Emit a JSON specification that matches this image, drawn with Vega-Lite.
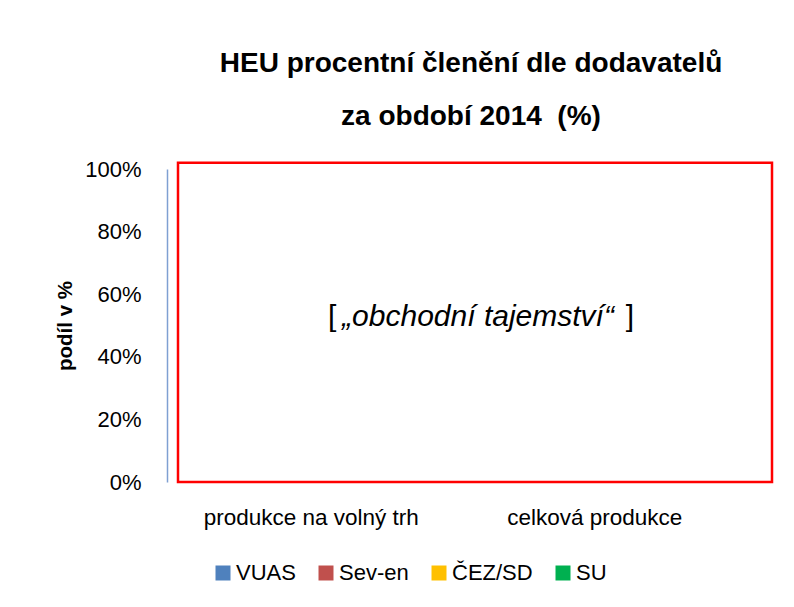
{
  "$schema": "https://vega.github.io/schema/vega-lite/v6.json",
  "width": 594,
  "height": 313,
  "autosize": {"type": "none"},
  "padding": {"left": 178, "top": 169, "right": 22, "bottom": 125},
  "background": "white",
  "config": {"font": "Liberation Sans", "view": {"stroke": null}},
  "title": {
    "text": ["HEU procentní členění dle dodavatelů", "za období 2014\u00a0 (%)"],
    "fontSize": 28,
    "fontWeight": "bold",
    "lineHeight": 53,
    "color": "black",
    "anchor": "middle",
    "frame": "group",
    "baseline": "alphabetic",
    "offset": 5,
    "dx": -4
  },
  "datasets": {
    "podily": [
      {"kategorie": "produkce na volný trh", "dodavatel": "VUAS", "podil": null},
      {"kategorie": "produkce na volný trh", "dodavatel": "Sev-en", "podil": null},
      {"kategorie": "produkce na volný trh", "dodavatel": "ČEZ/SD", "podil": null},
      {"kategorie": "produkce na volný trh", "dodavatel": "SU", "podil": null},
      {"kategorie": "celková produkce", "dodavatel": "VUAS", "podil": null},
      {"kategorie": "celková produkce", "dodavatel": "Sev-en", "podil": null},
      {"kategorie": "celková produkce", "dodavatel": "ČEZ/SD", "podil": null},
      {"kategorie": "celková produkce", "dodavatel": "SU", "podil": null}
    ],
    "poznamka": [
      {"text": "„obchodní tajemství“"}
    ]
  },
  "layer": [
    {
      "data": {"name": "podily"},
      "mark": {"type": "bar"},
      "encoding": {
        "x": {
          "field": "kategorie",
          "type": "nominal",
          "sort": ["produkce na volný trh", "celková produkce"],
          "scale": {"domain": ["produkce na volný trh", "celková produkce"], "paddingInner": 0, "paddingOuter": 0.0476},
          "axis": {
            "title": null,
            "labelAngle": 0,
            "labelFontSize": 22.5,
            "labelColor": "black",
            "labelLimit": 400,
            "domain": false,
            "ticks": false,
            "labelPadding": 24,
            "labelOffset": -22
          }
        },
        "y": {
          "field": "podil",
          "type": "quantitative",
          "scale": {"domain": [0, 1], "nice": false},
          "axis": {
            "title": "podíl v %",
            "format": ".0%",
            "values": [0, 0.2, 0.4, 0.6, 0.8, 1],
            "grid": false,
            "ticks": false,
            "tickSize": 0,
            "labelPadding": 26,
            "offset": 11,
            "domainColor": "#7FA0D2",
            "domainWidth": 1.5,
            "labelFontSize": 22,
            "labelColor": "black",
            "titleFontSize": 20.5,
            "titleFontWeight": "bold",
            "titleColor": "black",
            "titlePadding": 9
          }
        },
        "color": {
          "field": "dodavatel",
          "type": "nominal",
          "scale": {
            "domain": ["VUAS", "Sev-en", "ČEZ/SD", "SU"],
            "range": ["#4F81BD", "#C0504D", "#FFC000", "#00B050"]
          },
          "legend": {
            "orient": "none",
            "legendX": 34,
            "legendY": 393,
            "direction": "horizontal",
            "title": null,
            "symbolType": "square",
            "symbolSize": 225,
            "symbolStrokeWidth": 0,
            "labelFontSize": 22,
            "labelColor": "black",
            "columnPadding": 19,
            "labelOffset": 2
          }
        }
      }
    },
    {
      "data": {"name": "poznamka"},
      "mark": {"type": "rect", "fill": "white", "stroke": "#FF0000", "strokeWidth": 2.5},
      "encoding": {
        "y": {"datum": 0, "type": "quantitative", "scale": {"domain": [0, 1], "nice": false}},
        "y2": {"datum": 1.02}
      }
    },
    {
      "data": {"name": "poznamka"},
      "mark": {"type": "text", "fontStyle": "italic", "fontSize": 30, "baseline": "alphabetic", "align": "center", "dx": 3, "color": "black"},
      "encoding": {
        "text": {"field": "text"},
        "y": {"datum": 0.5, "type": "quantitative"}
      }
    },
    {
      "data": {"name": "poznamka"},
      "mark": {"type": "text", "fontSize": 30, "baseline": "alphabetic", "align": "left", "dx": -147, "color": "black"},
      "encoding": {
        "text": {"value": "["},
        "y": {"datum": 0.5, "type": "quantitative"}
      }
    },
    {
      "data": {"name": "poznamka"},
      "mark": {"type": "text", "fontSize": 30, "baseline": "alphabetic", "align": "right", "dx": 159, "color": "black"},
      "encoding": {
        "text": {"value": "]"},
        "y": {"datum": 0.5, "type": "quantitative"}
      }
    }
  ]
}
